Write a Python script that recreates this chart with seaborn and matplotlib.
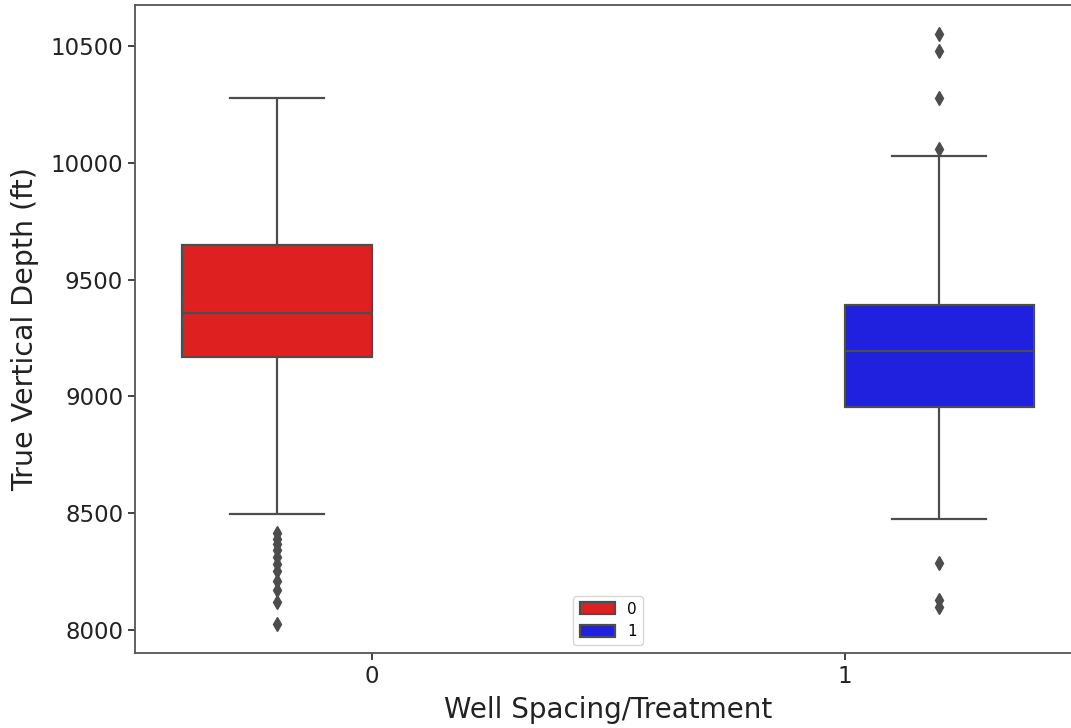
import numpy as np
import pandas as pd
import matplotlib
matplotlib.use("Agg")
import matplotlib.pyplot as plt
import seaborn as sns

# True vertical depth (ft) per well, grouped by spacing/treatment flag
tvd_group0 = [
    8026, 8120, 8170, 8210, 8250, 8280, 8310, 8340, 8365, 8390, 8415,
    8494,
    9168,
    9175, 9190, 9204, 9221, 9236, 9258, 9271, 9290, 9308, 9322, 9341,
    9357,
    9370, 9392, 9415, 9440, 9466, 9490, 9515, 9540, 9566, 9598, 9625,
    9649,
    9680, 9712, 9745, 9790, 9835, 9880, 9940, 10010, 10075, 10150, 10220,
    10277,
]
tvd_group1 = [
    8099, 8125, 8284,
    8473,
    8600, 8720, 8810, 8890,
    8954,
    8985, 9020, 9060, 9095, 9120, 9150, 9172,
    9194,
    9215, 9240, 9262, 9290, 9318, 9345, 9370,
    9392,
    9480, 9620, 9810,
    10032,
    10058, 10277, 10479, 10551,
]
groups = [0, 1]
palette = ["red", "blue"]

df = pd.DataFrame({
    "treatment": [groups[0]] * len(tvd_group0) + [groups[1]] * len(tvd_group1),
    "tvd": tvd_group0 + tvd_group1,
})

plt.rcParams["font.family"] = ["DejaVu Sans"]
fig = plt.figure(figsize=(10.71, 7.28), dpi=100)
ax = fig.add_axes([135 / 1071, 1 - 653 / 728, (1081 - 135) / 1071, (653 - 5) / 728])

line_gray = "#4d4d4d"
sns.boxplot(
    data=df, x="treatment", y="tvd", hue="treatment",
    palette=palette, dodge=True, saturation=0.75, width=0.8,
    linewidth=1.6, linecolor=line_gray, ax=ax,
    flierprops=dict(marker="d", markersize=7,
                    markerfacecolor=line_gray, markeredgecolor=line_gray),
)

ax.set_xlabel("Well Spacing/Treatment", fontsize=20, color="#222222", labelpad=6)
ax.set_ylabel("True Vertical Depth (ft)", fontsize=20.5, color="#222222", labelpad=8)
ax.set_yticks([8000, 8500, 9000, 9500, 10000, 10500])
ax.tick_params(axis="both", labelsize=16.5, colors="#222222", length=5, width=1.2)
for sp in ax.spines.values():
    sp.set_color("#555555")
    sp.set_linewidth(1.3)

handles, labels = ax.get_legend_handles_labels()
ax.legend(handles, labels, loc="lower center", fontsize=11,
          handlelength=2.3, handleheight=0.8, title=None)

fig.savefig("out.png", dpi=100)
